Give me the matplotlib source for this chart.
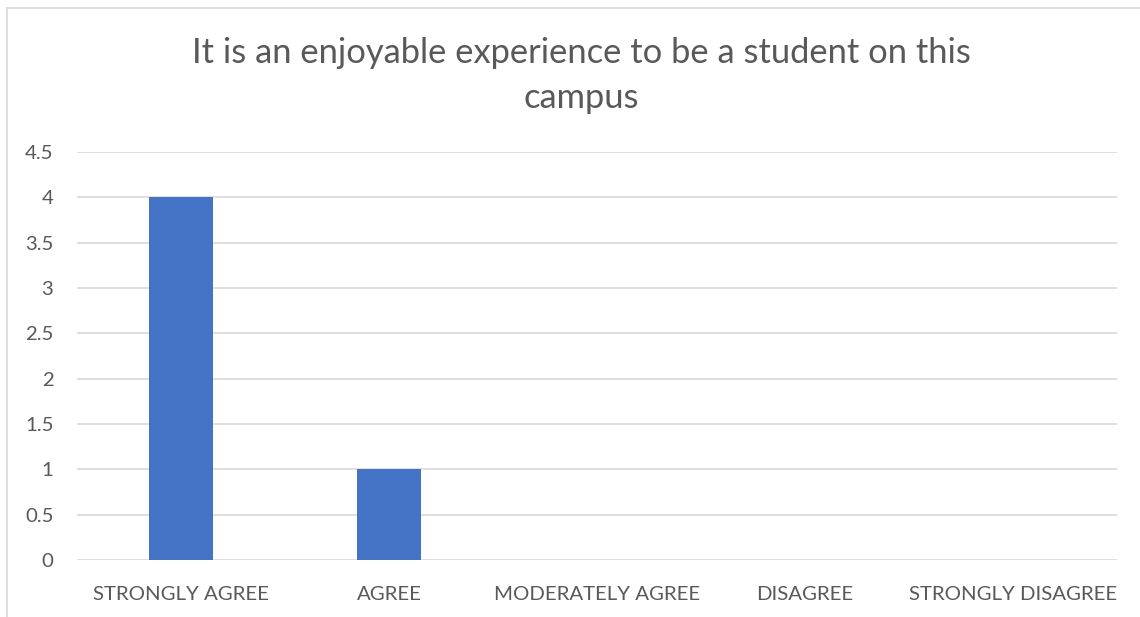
import matplotlib
matplotlib.use("Agg")
from matplotlib import pyplot as plt
from matplotlib.lines import Line2D

# survey answers
categories = ["STRONGLY AGREE", "AGREE", "MODERATELY AGREE", "DISAGREE", "STRONGLY DISAGREE"]
counts = [4, 1, 0, 0, 0]
yticks = [0, 0.5, 1, 1.5, 2, 2.5, 3, 3.5, 4, 4.5]
title = "It is an enjoyable experience to be a student on this\ncampus"

plt.rcParams['font.family'] = ['Lato', 'DejaVu Sans']
txt = "#595959"
grid = "#D9D9D9"

W, H = 1140, 617
fig = plt.figure(figsize=(W / 100, H / 100), dpi=100)
ax = fig.add_axes([77 / W, 1 - 560 / H, (1117 - 77) / W, (560 - 152) / H])

x = range(len(categories))
ax.bar(x, counts, width=0.31, color="#4472C4", zorder=3)
ax.set_xlim(-0.5, len(categories) - 0.5)
ax.set_ylim(0, 4.5)
ax.set_yticks(yticks)
ax.set_yticklabels([f"{t:g}" for t in yticks])
ax.set_xticks(list(x))
ax.set_xticklabels(categories)
ax.tick_params(axis="both", length=0, labelsize=14.7, colors=txt)
ax.tick_params(axis="x", pad=19)
ax.tick_params(axis="y", pad=17)
ax.yaxis.grid(True, color=grid, linewidth=1.2, zorder=0)
for s in ax.spines.values():
    s.set_visible(False)

fig.text(581 / W, 1 - 37 / H, title, ha="center", va="top", fontsize=24.8,
         color=txt, linespacing=1.5)

# chart border (left and top visible)
fig.add_artist(Line2D([6.5 / W, 6.5 / W], [0, 1 - 7.5 / H], color=grid, linewidth=1.2))
fig.add_artist(Line2D([6.5 / W, 1], [1 - 7.5 / H, 1 - 7.5 / H], color=grid, linewidth=1.2))

fig.savefig("out.png", dpi=100, facecolor="white")
